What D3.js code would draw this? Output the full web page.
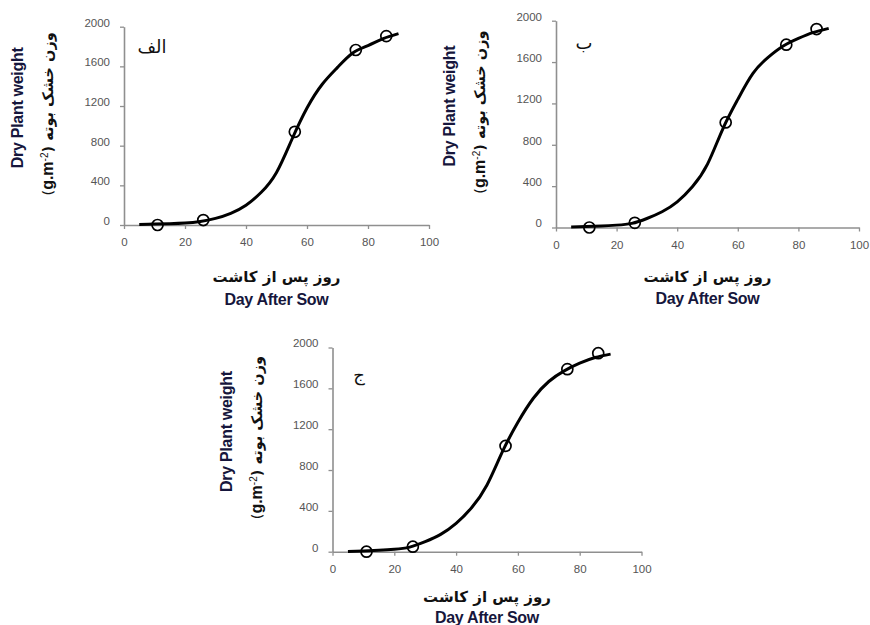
<!DOCTYPE html>
<html>
<head>
<meta charset="utf-8">
<script src="https://cdn.jsdelivr.net/npm/d3@7"></script>
<style>
  body { margin: 0; background: #fff; }
  svg { display: block; }
</style>
</head>
<body>
<script>
// measured days and dry weight (g.m-2) for the three panels
const days = [11, 26, 56, 76, 86];
const weightA = [0, 50, 940, 1765, 1905];
const weightB = [0, 45, 1016, 1768, 1919];
const weightC = [0, 49, 1036, 1788, 1944];

// fitted curve
const fitDays = [5, 10, 15, 20, 25, 30, 35, 40, 45, 50, 55, 60, 65, 70, 75, 80, 85, 90];
const fitA = [6, 9, 13, 20, 36, 67, 118, 200, 330, 530, 860, 1180, 1420, 1590, 1735, 1810, 1880, 1930];
const fitB = [6, 10, 15, 23, 40, 87, 152, 248, 394, 613, 950, 1239, 1490, 1645, 1755, 1829, 1887, 1926];
const fitC = [3, 8, 14, 23, 45, 98, 170, 278, 431, 654, 980, 1268, 1503, 1667, 1771, 1846, 1902, 1935];

const xTicks = [0, 20, 40, 60, 80, 100];
const yTicks = [0, 400, 800, 1200, 1600, 2000];
const panelLabels = ["الف", "ب", "ج"];

const W = 870, H = 625;
const svg = d3.select("body").append("svg")
    .attr("width", W)
    .attr("height", H);

svg.append("rect").attr("width", W).attr("height", H).attr("fill", "#fff");

const axisColor = "#8f8f8f";
const titleColor = "#16163c";

function drawPanel(p) {
    var x = d3.scaleLinear().domain([0, 100]).range([p.left, p.right]);
    var y = d3.scaleLinear().domain([0, 2000]).range([p.bottom, p.top]);
    var g = svg.append("g");

    // axes
    var xAxis = g.append("g")
        .attr("transform", "translate(0," + p.bottom + ")")
        .call(d3.axisBottom(x).tickValues(xTicks).tickFormat(d3.format("d")).tickSize(4).tickSizeOuter(0));
    var yAxis = g.append("g")
        .attr("transform", "translate(" + p.left + ",0)")
        .call(d3.axisLeft(y).tickValues(yTicks).tickFormat(d3.format("d")).tickSize(4).tickSizeOuter(0));

    [xAxis, yAxis].forEach(function (a) {
        a.select(".domain").attr("stroke", axisColor).attr("stroke-width", 1.6);
        a.selectAll(".tick line").attr("stroke", axisColor).attr("stroke-width", 1.3);
        a.selectAll(".tick text")
            .attr("fill", "#555")
            .style("font-family", "'Liberation Sans', Arial, sans-serif")
            .style("font-size", "11.5px");
    });
    xAxis.selectAll(".tick text").attr("y", 13);
    yAxis.selectAll(".tick text").attr("x", -14).attr("dy", "-0.05em");

    // fitted curve
    var line = d3.line()
        .x(function (d) { return x(d[0]); })
        .y(function (d) { return y(d[1]); })
        .curve(d3.curveNatural);
    g.append("path")
        .datum(d3.zip(fitDays, p.fit))
        .attr("d", line)
        .attr("fill", "none")
        .attr("stroke", "#000")
        .attr("stroke-width", 3);

    // observed points
    g.selectAll("circle.obs")
        .data(d3.zip(days, p.obs))
        .enter().append("circle")
        .attr("class", "obs")
        .attr("cx", function (d) { return x(d[0]); })
        .attr("cy", function (d) { return y(d[1]); })
        .attr("r", 5.5)
        .attr("fill", "none")
        .attr("stroke", "#000")
        .attr("stroke-width", 1.7);

    // panel letter
    g.append("text")
        .attr("x", p.labelX)
        .attr("y", p.labelY)
        .attr("text-anchor", "middle")
        .attr("direction", "rtl")
        .style("font-family", "'DejaVu Sans', sans-serif")
        .style("font-size", "18px")
        .attr("fill", "#111")
        .text(p.label);

    // y titles
    var midY = (p.top + p.bottom) / 2;
    g.append("text")
        .attr("transform", "translate(" + (p.left - 101) + "," + (midY - 18) + ") rotate(-90)")
        .attr("text-anchor", "middle")
        .style("font-family", "'Liberation Sans', Arial, sans-serif")
        .style("font-weight", "bold")
        .style("font-size", "16px")
        .style("letter-spacing", "-0.3px")
        .attr("fill", titleColor)
        .text("Dry Plant weight");

    var fa = g.append("text")
        .attr("transform", "translate(" + (p.left - 71) + "," + (midY - 12) + ") rotate(-90)")
        .attr("text-anchor", "middle")
        .attr("direction", "rtl")
        .style("font-family", "'DejaVu Sans', sans-serif")
        .style("font-size", "14.5px")
        .style("font-weight", "bold")
        .attr("fill", "#111");
    fa.append("tspan").text("وزن خشک بوته (");
    fa.append("tspan")
        .style("font-family", "'Liberation Sans', Arial, sans-serif")
        .style("font-size", "16px")
        .text("g.m");
    fa.append("tspan")
        .style("font-family", "'Liberation Sans', Arial, sans-serif")
        .style("font-weight", "normal")
        .style("font-size", "10px")
        .attr("baseline-shift", "super")
        .text("-2");
    fa.append("tspan").style("font-weight", "normal").text(")");

    // x titles
    var midX = (p.left + p.right) / 2;
    g.append("text")
        .attr("x", midX)
        .attr("y", p.bottom + p.faOffset)
        .attr("text-anchor", "middle")
        .attr("direction", "rtl")
        .style("font-family", "'DejaVu Sans', sans-serif")
        .style("font-weight", "bold")
        .style("font-size", "15px")
        .attr("fill", "#111")
        .text("روز پس از کاشت");
    g.append("text")
        .attr("x", midX)
        .attr("y", p.bottom + p.enOffset)
        .attr("text-anchor", "middle")
        .style("font-family", "'Liberation Sans', Arial, sans-serif")
        .style("font-weight", "bold")
        .style("font-size", "16px")
        .style("letter-spacing", "-0.3px")
        .attr("fill", titleColor)
        .text("Day After Sow");
}

drawPanel({ left: 124, right: 429, top: 26.7, bottom: 225, faOffset: 57, enOffset: 80,
    obs: weightA, fit: fitA, label: panelLabels[0], labelX: 152, labelY: 53 });
drawPanel({ left: 556, right: 859, top: 20.7, bottom: 227.5, faOffset: 54, enOffset: 76,
    obs: weightB, fit: fitB, label: panelLabels[1], labelX: 584, labelY: 49 });
drawPanel({ left: 332.5, right: 641.5, top: 347.5, bottom: 551.7, faOffset: 50, enOffset: 71,
    obs: weightC, fit: fitC, label: panelLabels[2], labelX: 359, labelY: 381 });
</script>
</body>
</html>
